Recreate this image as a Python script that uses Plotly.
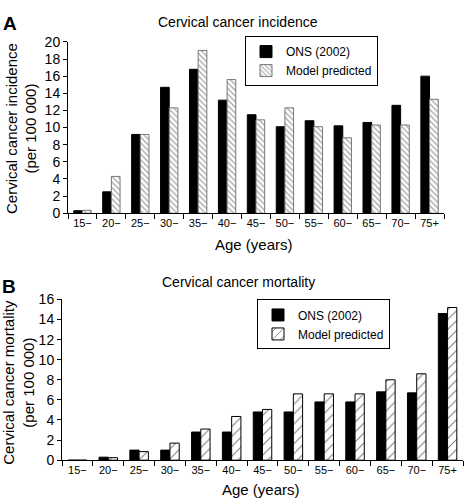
import plotly.graph_objects as go

ages = ["15−", "20−", "25−", "30−", "35−", "40−", "45−", "50−", "55−", "60−", "65−", "70−", "75+"]
inc_ons = [0.3, 2.5, 9.2, 14.7, 16.8, 13.2, 11.5, 10.1, 10.8, 10.2, 10.6, 12.6, 16.0]
inc_model = [0.35, 4.3, 9.2, 12.3, 19.0, 15.6, 10.9, 12.3, 10.1, 8.8, 10.3, 10.3, 13.3]
mort_ons = [0.0, 0.3, 1.0, 1.0, 2.8, 2.8, 4.8, 4.8, 5.8, 5.8, 6.8, 6.7, 14.6]
mort_model = [0.0, 0.25, 0.85, 1.7, 3.1, 4.35, 5.05, 6.6, 6.6, 6.6, 8.0, 8.6, 15.2]

W, H = 466, 504
FONT = "Liberation Sans, Arial, Helvetica, sans-serif"

def px(x):
    return x / W

def py(y):
    return (H - y) / H

fig = go.Figure()

fig.add_trace(go.Bar(x=ages, y=inc_ons, name="ONS (2002)", xaxis="x", yaxis="y",
                     marker=dict(color="black", line=dict(color="black", width=1)),
                     legend="legend"))
fig.add_trace(go.Bar(x=ages, y=inc_model, name="Model predicted", xaxis="x", yaxis="y",
                     marker=dict(color="white", line=dict(color="#777", width=1),
                                 pattern=dict(shape="\\", fgcolor="#555", bgcolor="white",
                                              size=4, solidity=0.35)),
                     legend="legend"))
fig.add_trace(go.Bar(x=ages, y=mort_ons, name="ONS (2002)", xaxis="x2", yaxis="y2",
                     marker=dict(color="black", line=dict(color="black", width=1)),
                     legend="legend2"))
fig.add_trace(go.Bar(x=ages, y=mort_model, name="Model predicted", xaxis="x2", yaxis="y2",
                     marker=dict(color="white", line=dict(color="black", width=1),
                                 pattern=dict(shape="/", fgcolor="black", bgcolor="white",
                                              size=7, solidity=0.15)),
                     legend="legend2"))

xcommon = dict(type="category", showline=True, linecolor="black", linewidth=1,
               ticks="outside", tickson="boundaries", ticklen=5, tickcolor="black",
               tickfont=dict(size=11, color="black", family=FONT), showgrid=False,
               zeroline=False, fixedrange=True)
ycommon = dict(showline=True, linecolor="black", linewidth=1, ticks="outside",
               ticklen=4, tickcolor="black", dtick=2,
               tickfont=dict(size=14, color="black", family=FONT), showgrid=False,
               zeroline=False, fixedrange=True)

fig.update_layout(
    width=W, height=H,
    margin=dict(l=0, r=0, t=0, b=0),
    paper_bgcolor="white", plot_bgcolor="white",
    barmode="group", bargap=0.4, bargroupgap=0.0,
    font=dict(family=FONT, color="black"),
    xaxis=dict(domain=[px(68), px(444)], anchor="y", **xcommon),
    yaxis=dict(domain=[py(212), py(35)], anchor="x", range=[0, 20], **ycommon),
    xaxis2=dict(domain=[px(62), px(463)], anchor="y2", **xcommon),
    yaxis2=dict(domain=[py(467), py(301)], anchor="x2", range=[0, 16], **ycommon),
    legend=dict(x=px(378), y=py(29), xanchor="right", yanchor="top",
                bordercolor="black", borderwidth=1, bgcolor="white",
                font=dict(size=12, family=FONT), tracegroupgap=2, itemwidth=30,
                traceorder="normal"),
    legend2=dict(x=px(390), y=py(301), xanchor="right", yanchor="top",
                 bordercolor="black", borderwidth=1, bgcolor="white",
                 font=dict(size=12, family=FONT), tracegroupgap=2, itemwidth=30,
                 traceorder="normal"),
    showlegend=True,
)

ann = []
def add(text, x, y, size, angle=0, bold=False):
    ann.append(dict(text=("<b>%s</b>" % text) if bold else text, x=px(x), y=py(y),
                    xref="paper", yref="paper", showarrow=False, textangle=angle,
                    xanchor="center", yanchor="middle",
                    font=dict(size=size, family=FONT, color="black")))

add("A", 10, 16, 19, bold=True)
add("B", 9, 288, 19, bold=True)
add("Cervical cancer incidence", 238, 14, 14)
add("Cervical cancer mortality", 238, 283, 14)
add("Cervical cancer incidence<br>(per 100 000)", 21, 125, 15, angle=-90)
add("Cervical cancer mortality<br>(per 100 000)", 19, 387, 15, angle=-90)
add("Age (years)", 254, 244, 15)
add("Age (years)", 261, 497, 15)
fig.update_layout(annotations=ann)

fig.write_html("out.html", config={"displayModeBar": False},
               post_script="document.body.style.margin='0';document.body.style.overflow='hidden';")
